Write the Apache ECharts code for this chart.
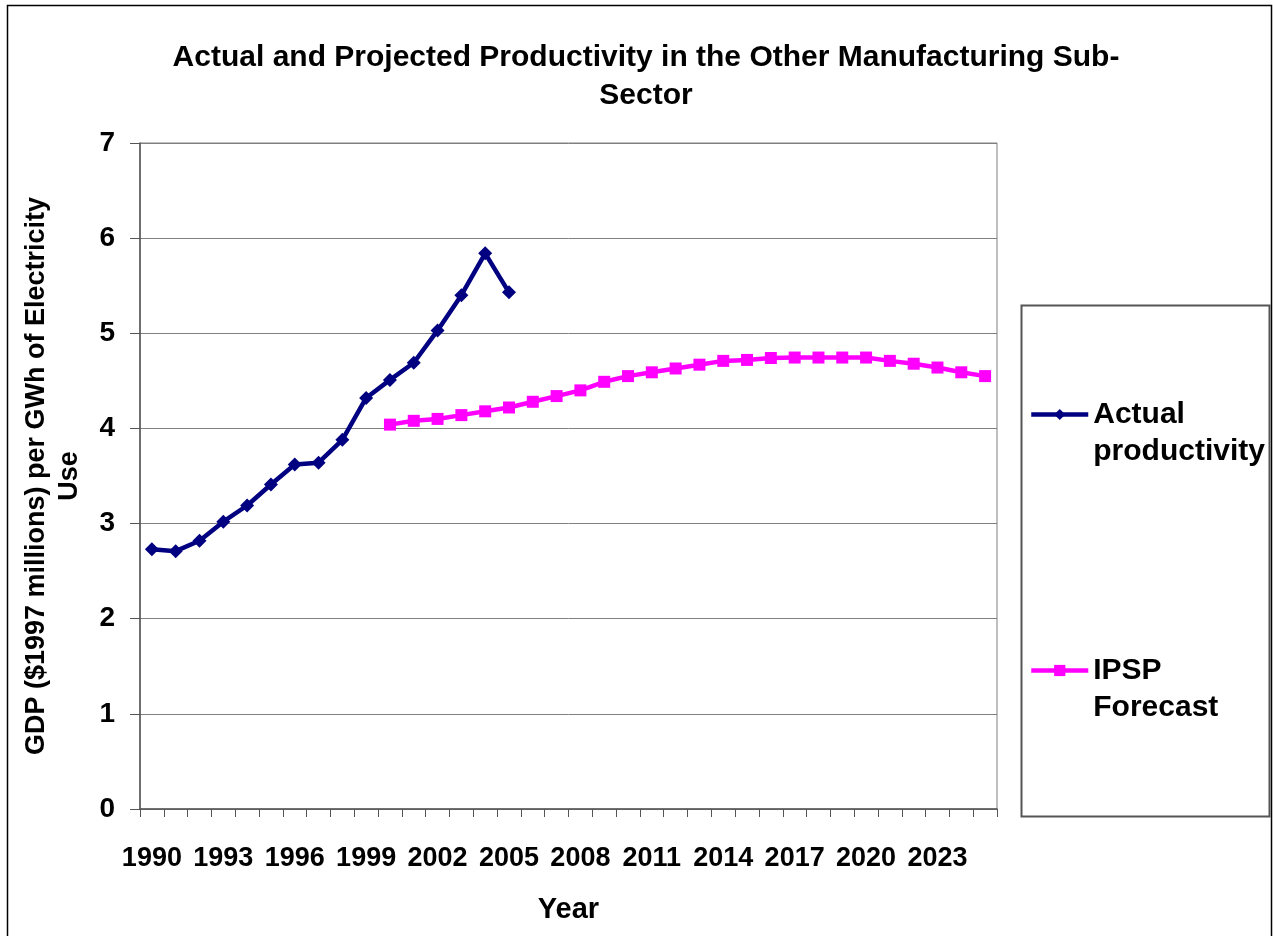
<!DOCTYPE html>
<html>
<head>
<meta charset="utf-8">
<script src="https://cdn.jsdelivr.net/npm/echarts@6/dist/echarts.min.js"></script>
<style>
html,body{margin:0;padding:0;background:#fff;}
#chart{width:1273px;height:936px;}
</style>
</head>
<body>
<div id="chart"></div>
<script>
const years = [];
for (let y = 1990; y <= 2025; y++) years.push(String(y));

const actualValues = [2.73, 2.71, 2.82, 3.02, 3.19, 3.41, 3.62, 3.64, 3.88, 4.32,
  4.51, 4.69, 5.03, 5.40, 5.84, 5.43];

const forecastValues = [4.04, 4.08, 4.10, 4.14, 4.18, 4.22, 4.28, 4.34, 4.40, 4.49,
  4.55, 4.59, 4.63, 4.67, 4.71, 4.72, 4.74, 4.745, 4.745, 4.745,
  4.745, 4.71, 4.68, 4.64, 4.59, 4.55];

const yTicks = [0, 1, 2, 3, 4, 5, 6, 7];

const actualSeries = years.map((y, i) => i < actualValues.length ? actualValues[i] : null);
const forecastStart = years.indexOf('2000');
const forecastSeries = years.map((y, i) => i >= forecastStart ? forecastValues[i - forecastStart] : null);

const FONT = 'Arial, "Liberation Sans", sans-serif';
const chart = echarts.init(document.getElementById('chart'), null, {renderer: 'canvas'});

chart.setOption({
  animation: false,
  backgroundColor: '#fff',
  title: {
    text: 'Actual and Projected Productivity in the Other Manufacturing Sub-\nSector',
    left: 641,
    top: 34,
    textAlign: 'center',
    textStyle: {fontFamily: FONT, fontWeight: 'bold', fontSize: 30, lineHeight: 38, color: '#000'}
  },
  graphic: [
    {type: 'rect', shape: {x: 7.5, y: 5.5, width: 1264, height: 960}, style: {fill: 'none', stroke: '#000', lineWidth: 1.5}, silent: true, z: -1},
    {type: 'rect', shape: {x: 1021.5, y: 305.5, width: 248, height: 511}, style: {fill: '#fff', stroke: '#555', lineWidth: 2}, silent: true, z: 0}
  ],
  legend: {
    orient: 'vertical',
    left: 1029,
    top: 359,
    padding: 0,
    itemGap: 145,
    itemWidth: 57,
    itemHeight: 14,
    data: [
      {name: 'Actual productivity', lineStyle: {width: 4.5}},
      {name: 'IPSP Forecast', lineStyle: {width: 4.5}}
    ],
    formatter: function (name) {
      return name === 'Actual productivity' ? '\nActual\nproductivity' : '\nIPSP\nForecast';
    },
    textStyle: {fontFamily: FONT, fontWeight: 'bold', fontSize: 30, lineHeight: 37, color: '#000'},
    z: 5
  },
  grid: {
    left: 140, top: 143, right: 276, bottom: 127,
    show: true, borderColor: '#808080', borderWidth: 1
  },
  xAxis: {
    type: 'category',
    data: years,
    boundaryGap: true,
    name: 'Year',
    nameLocation: 'middle',
    nameGap: 86,
    nameTextStyle: {fontFamily: FONT, fontWeight: 'bold', fontSize: 29, color: '#000'},
    axisLine: {lineStyle: {color: '#555', width: 1.5}},
    axisTick: {show: true, interval: 0, length: 8, lineStyle: {color: '#555'}},
    axisLabel: {interval: 2, margin: 36, fontFamily: FONT, fontWeight: 'bold', fontSize: 27, color: '#000'},
    splitLine: {show: false}
  },
  yAxis: {
    type: 'value',
    min: yTicks[0],
    max: yTicks[yTicks.length - 1],
    interval: 1,
    name: 'GDP ($1997 millions) per GWh of Electricity\nUse',
    nameLocation: 'middle',
    nameRotate: 90,
    nameGap: 54,
    nameTextStyle: {fontFamily: FONT, fontWeight: 'bold', fontSize: 27, lineHeight: 33, color: '#000'},
    axisLine: {show: true, lineStyle: {color: '#555', width: 1.5}},
    axisTick: {show: true, length: 10, lineStyle: {color: '#555'}},
    axisLabel: {margin: 25, fontFamily: FONT, fontWeight: 'bold', fontSize: 28, color: '#000'},
    splitLine: {show: true, lineStyle: {color: '#808080', width: 1}}
  },
  series: [
    {
      name: 'Actual productivity',
      type: 'line',
      data: actualSeries,
      connectNulls: false,
      symbol: 'diamond',
      symbolSize: 14,
      lineStyle: {color: '#000080', width: 4.5},
      itemStyle: {color: '#000080'},
      z: 3
    },
    {
      name: 'IPSP Forecast',
      type: 'line',
      data: forecastSeries,
      connectNulls: false,
      symbol: 'rect',
      symbolSize: 12,
      lineStyle: {color: '#FF00FF', width: 4.5},
      itemStyle: {color: '#FF00FF'},
      z: 2
    }
  ]
});
</script>
</body>
</html>
